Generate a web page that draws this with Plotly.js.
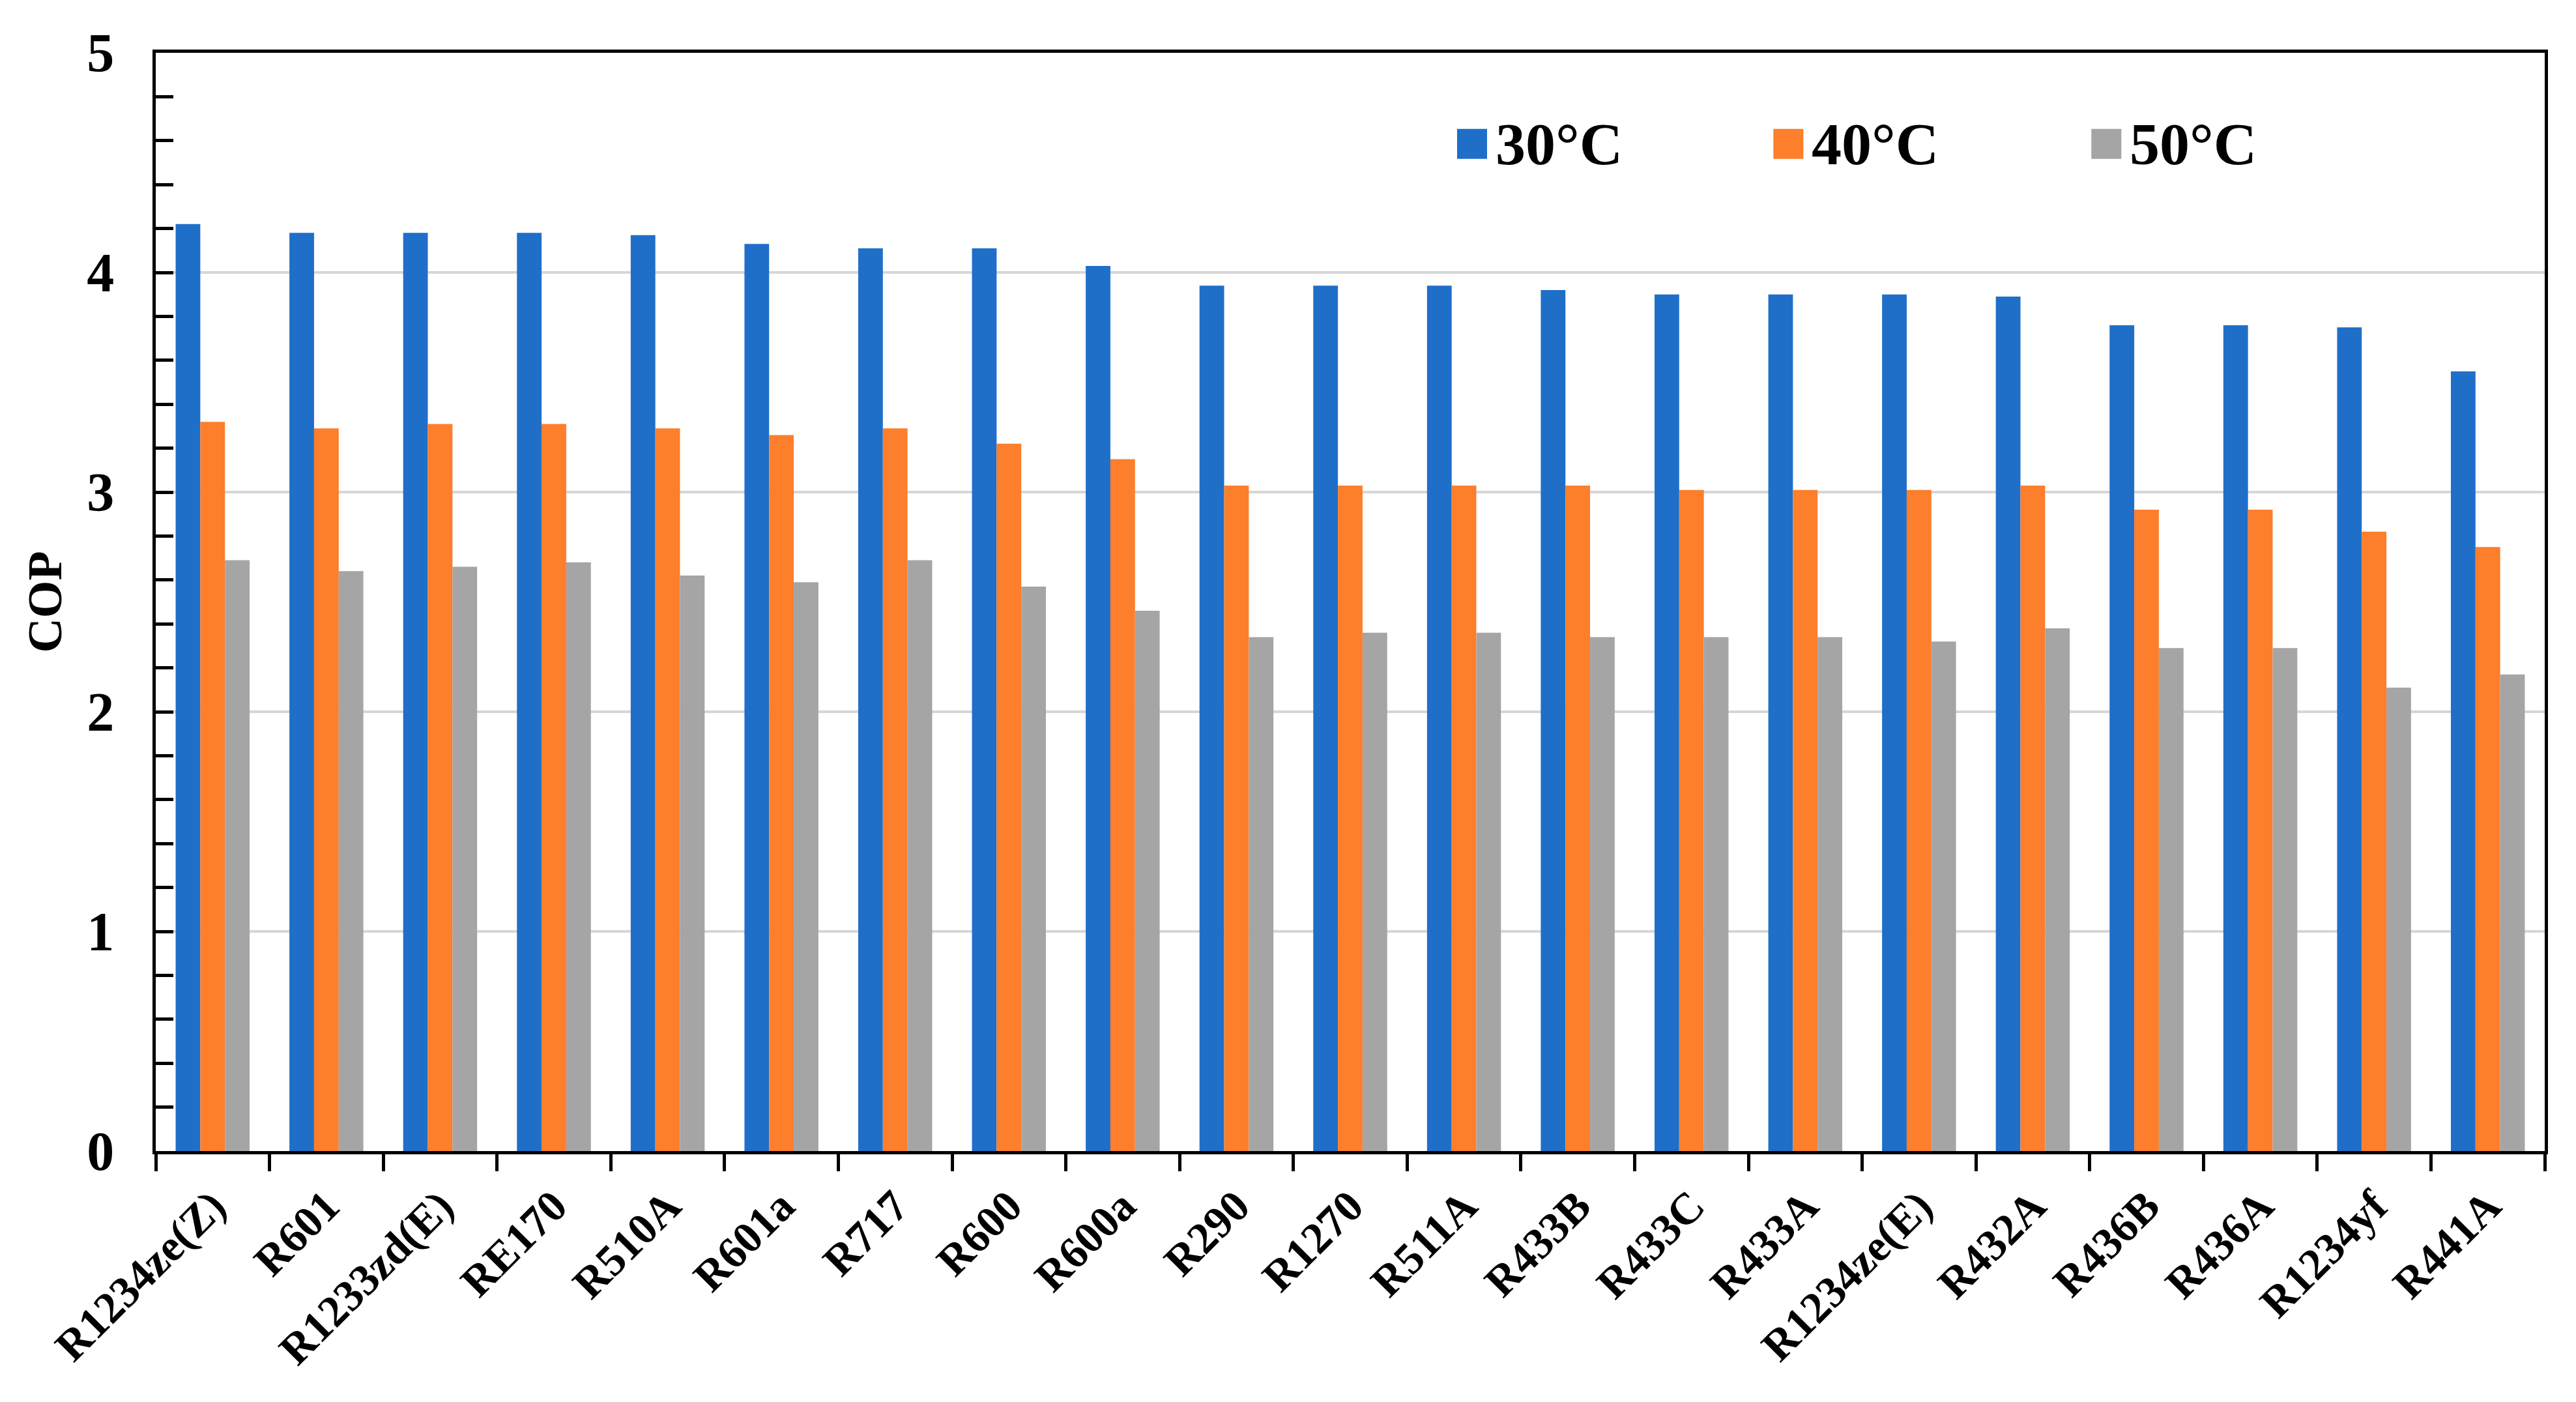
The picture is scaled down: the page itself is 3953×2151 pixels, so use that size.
<!DOCTYPE html>
<html>
<head>
<meta charset="utf-8">
<script src="https://cdn.plot.ly/plotly-3.0.1.min.js"></script>
<style>html,body{margin:0;padding:0;background:#fff;}#chart{width:3953px;height:2151px;}</style>
</head>
<body>
<div id="chart"></div>
<script>
const refrigerants = ["R1234ze(Z)","R601","R1233zd(E)","RE170","R510A","R601a","R717","R600","R600a","R290","R1270","R511A","R433B","R433C","R433A","R1234ze(E)","R432A","R436B","R436A","R1234yf","R441A"];
const cop30 = [4.22,4.18,4.18,4.18,4.17,4.13,4.11,4.11,4.03,3.94,3.94,3.94,3.92,3.90,3.90,3.90,3.89,3.76,3.76,3.75,3.55];
const cop40 = [3.32,3.29,3.31,3.31,3.29,3.26,3.29,3.22,3.15,3.03,3.03,3.03,3.03,3.01,3.01,3.01,3.03,2.92,2.92,2.82,2.75];
const cop50 = [2.69,2.64,2.66,2.68,2.62,2.59,2.69,2.57,2.46,2.34,2.36,2.36,2.34,2.34,2.34,2.32,2.38,2.29,2.29,2.11,2.17];
const seriesNames = ["30°C","40°C","50°C"];
const seriesColors = ["#1f6fc9","#fd7e2b","#a5a5a5"];
const yTicks = [0,1,2,3,4,5];

const FONT = "Liberation Serif, Times New Roman, serif";
const values = [cop30, cop40, cop50];
const traces = values.map((v,i)=>({
  type:'bar', x: refrigerants, y: v, name: seriesNames[i],
  marker:{color: seriesColors[i]}, showlegend:false
}));

// legend drawn as paper-anchored swatches + text
const legendX = [0.5510, 0.6834, 0.8165];
const legendY = 0.917;
const shapes = [];
const annotations = [];
seriesNames.forEach((n,i)=>{
  shapes.push({type:'rect', xref:'paper', yref:'paper', xsizemode:'pixel', ysizemode:'pixel',
    xanchor: legendX[i], yanchor: legendY, x0:-23, x1:23, y0:-23, y1:23,
    fillcolor: seriesColors[i], line:{width:0}});
  annotations.push({xref:'paper', yref:'paper', x: legendX[i], y: legendY, xanchor:'left', yanchor:'middle',
    xshift: 34, showarrow:false, text: n, font:{family:FONT, size:92, color:'#000', weight:'bold'}});
});

const layout = {
  width:3953, height:2151,
  paper_bgcolor:'#fff', plot_bgcolor:'#fff',
  margin:{l:239, r:48, t:81, b:385, autoexpand:false},
  barmode:'group', bargap:0.35, bargroupgap:0,
  font:{family:FONT, color:'#000'},
  xaxis:{
    type:'category', showline:true, linecolor:'#000', linewidth:5, mirror:true,
    ticks:'outside', tickson:'boundaries', ticklen:26, tickwidth:5, tickcolor:'#000',
    tickangle:-45, tickfont:{family:FONT, size:68, color:'#000', weight:'bold'},
    ticklabelstandoff: 12,
    showgrid:false, automargin:false
  },
  yaxis:{
    range:[0,5], tickvals: yTicks, ticktext: yTicks.map(String),
    showline:true, linecolor:'#000', linewidth:5, mirror:true,
    ticks:'inside', ticklen:27, tickwidth:5, tickcolor:'#000',
    minor:{dtick:0.2, ticks:'inside', ticklen:27, tickwidth:5, tickcolor:'#000', showgrid:false},
    showgrid:true, gridcolor:'#d6d6d6', gridwidth:4, zeroline:false,
    tickfont:{family:FONT, size:84, color:'#000', weight:'bold'},
    ticklabelstandoff: 42,
    title:{text:'COP', font:{family:FONT, size:74, color:'#000', weight:'bold'}, standoff:16},
    automargin:false
  },
  shapes: shapes,
  annotations: annotations,
  showlegend:false
};
Plotly.newPlot('chart', traces, layout, {staticPlot:true, displayModeBar:false});
</script>
</body>
</html>
